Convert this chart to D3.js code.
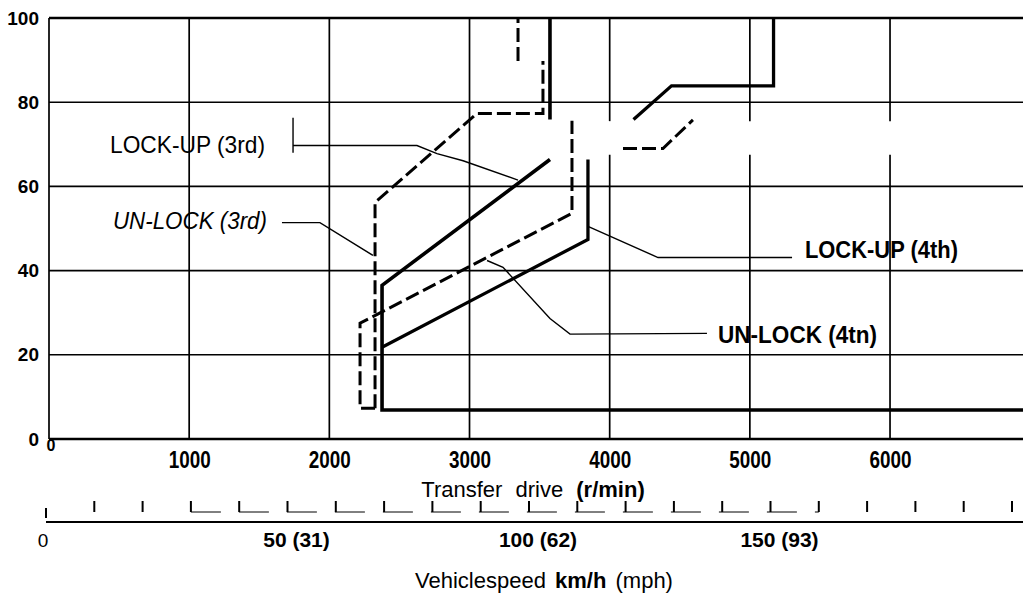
<!DOCTYPE html>
<html><head><meta charset="utf-8">
<script src="https://cdn.jsdelivr.net/npm/d3@7"></script>
<style>html,body{margin:0;padding:0;background:#fff;overflow:hidden;} svg{display:block;font-family:"Liberation Sans",Arial,sans-serif;}</style>
</head><body>
<svg id="c" width="1023" height="597"></svg>
<script>
// ---- data ----
const rpmTicks = [1000, 2000, 3000, 4000, 5000, 6000];
const pctTicks = [0, 20, 40, 60, 80, 100];
const speedTicks = [0,10,20,30,40,50,60,70,80,90,100,110,120,130,140,150,160,170,180,190,200];
const speedLabelValues = [0, 50, 100, 150];
const speedLabelTexts = ["0", "50 (31)", "100 (62)", "150 (93)"];

// curves: [rpm, percent], null = break in the printed line
const lockUp3rd  = [[7000,6.9],[2376,6.9],[2376,36.5],[3574,66.4],null,[3574,75.9],[3574,100]];
const unLock3rd  = [[2326,7.3],[2326,56.2],[3053,77.3],[3524,77.3],[3524,89.8],null,[3346,89.8],[3346,100]];
const lockUp4th  = [[2376,21.8],[3845,47.4],[3845,66.4],null,[4170,75.9],[4441,83.9],[5169,83.9],[5169,100]];
const unLock4th  = [[2326,7.3],[2219,7.3],[2219,27.5],[3731,53.6],[3731,75.6],null,[4095,69.0],[4380,69.0],[4594,75.8]];

// leader lines
const leaderLU3 = [[1741,69.7],[2625,69.7],[2768,67.8],[2954,66.1],[3346,61.5]];
const leaderLU3tick = [[1741,76.3],[1741,68.0]];
const leaderUL3 = [[1662,51.4],[1933,51.4],[2311,43.6]];
const leaderLU4 = [[5301,43.1],[4345,43.1],[3845,50.5]];
const leaderUL4 = [[4694,25.1],[3717,24.9],[3574,28.6],[3239,40.8],[3125,42.4]];

const labelTexts = ["LOCK-UP (3rd)", "UN-LOCK (3rd)", "LOCK-UP (4th)", "UN-LOCK (4tn)"];
const labelAnchors = [[1541,68.0],[1555,49.8],[5393,42.9],[4773,22.7]];

// gap in the printed grid (scan patch)
const patchGap = [3500, 67.5, 75.5];

// ---- drawing ----
const svg = d3.select("#c");
const x = d3.scaleLinear().domain([0, 7000]).range([49, 1030.2]);
const y = d3.scaleLinear().domain([0, 100]).range([439, 18]);
const sp = d3.scaleLinear().domain([0, 200]).range([46, 1012]);
const line = d3.line().defined(d => d !== null).x(d => x(d[0])).y(d => y(d[1]));

// horizontal grid lines
svg.append("g").selectAll("line").data(pctTicks.filter(v => v > 0)).join("line")
  .attr("x1", x(0)).attr("x2", 1023).attr("y1", d => y(d)).attr("y2", d => y(d))
  .attr("stroke", "#000").attr("stroke-width", d => d === 100 ? 2.6 : 1.6);

// vertical grid lines (with gap)
const vg = svg.append("g");
rpmTicks.forEach(r => {
  const segs = r >= patchGap[0] ? [[0, patchGap[1]], [patchGap[2], 100]] : [[0, 100]];
  segs.forEach(s => vg.append("line").attr("x1", x(r)).attr("x2", x(r))
    .attr("y1", y(s[0])).attr("y2", y(s[1])).attr("stroke", "#000").attr("stroke-width", 1.7));
});
// left border
svg.append("line").attr("x1", x(0)).attr("x2", x(0)).attr("y1", y(0)).attr("y2", y(100))
  .attr("stroke", "#000").attr("stroke-width", 1.7);
// x axis line
svg.append("line").attr("x1", x(0)).attr("x2", 1023).attr("y1", y(0)).attr("y2", y(0))
  .attr("stroke", "#000").attr("stroke-width", 2.6);

// axes labels via d3 axis
const ax = svg.append("g").attr("transform", `translate(0,${y(0)})`)
  .call(d3.axisBottom(x).tickValues(rpmTicks).tickSize(0).tickPadding(12).tickFormat(d3.format("d")));
ax.select(".domain").remove();
ax.selectAll("text").attr("font-size", 24).attr("font-weight", "bold").attr("fill", "#000")
  .attr("font-family", '"Liberation Sans",Arial,sans-serif')
  .attr("textLength", 42).attr("lengthAdjust", "spacingAndGlyphs");

const ay = svg.append("g").attr("transform", `translate(${x(0)},0)`)
  .call(d3.axisLeft(y).tickValues(pctTicks).tickSize(0).tickPadding(10));
ay.select(".domain").remove();
ay.selectAll("text").attr("font-size", 19).attr("font-weight", "bold").attr("fill", "#000")
  .attr("font-family", '"Liberation Sans",Arial,sans-serif');

// small 0 at origin
svg.append("text").attr("x", x(0) + 2).attr("y", y(0) + 12).attr("text-anchor", "middle")
  .attr("font-size", 16).attr("font-weight", "bold").text("0");

// curves
svg.append("path").datum(unLock4th).attr("d", line).attr("fill", "none").attr("stroke", "#000")
  .attr("stroke-width", 3).attr("stroke-dasharray", "14,5").attr("stroke-linejoin", "miter");
svg.append("path").datum(unLock3rd).attr("d", line).attr("fill", "none").attr("stroke", "#000")
  .attr("stroke-width", 3).attr("stroke-dasharray", "14,5").attr("stroke-linejoin", "miter");
svg.append("path").datum(lockUp4th).attr("d", line).attr("fill", "none").attr("stroke", "#000")
  .attr("stroke-width", 3.3).attr("stroke-linejoin", "miter");
svg.append("path").datum(lockUp3rd).attr("d", line).attr("fill", "none").attr("stroke", "#000")
  .attr("stroke-width", 3.6).attr("stroke-linejoin", "miter");

// leaders
[leaderLU3, leaderLU3tick, leaderUL3, leaderLU4, leaderUL4].forEach(l =>
  svg.append("path").datum(l).attr("d", line).attr("fill", "none").attr("stroke", "#000").attr("stroke-width", 1.4));

// labels
const styles = [
  {anchor: "end", weight: "normal", italic: false, len: 155},
  {anchor: "end", weight: "normal", italic: true, len: 154},
  {anchor: "start", weight: "bold", italic: false, len: 153},
  {anchor: "start", weight: "bold", italic: false, len: 159}
];
labelTexts.forEach((t, i) => {
  svg.append("text").attr("x", x(labelAnchors[i][0])).attr("y", y(labelAnchors[i][1]))
    .attr("text-anchor", styles[i].anchor).attr("font-size", 24)
    .attr("font-weight", styles[i].weight).attr("font-style", styles[i].italic ? "italic" : "normal")
    .attr("textLength", styles[i].len).attr("lengthAdjust", "spacingAndGlyphs").text(t);
});

// x axis title
const t1 = svg.append("text").attr("x", 533).attr("y", 497).attr("text-anchor", "middle")
  .attr("font-size", 22).attr("word-spacing", 7);
t1.append("tspan").text("Transfer drive ");
t1.append("tspan").attr("font-weight", "bold").text("(r/min)");

// speed axis
svg.append("line").attr("x1", sp(0)).attr("x2", 1023).attr("y1", 522).attr("y2", 522)
  .attr("stroke", "#000").attr("stroke-width", 2.2);
svg.append("line").attr("x1", sp(30)).attr("x2", sp(160)).attr("y1", 512).attr("y2", 512)
  .attr("stroke", "#000").attr("stroke-width", 1).attr("stroke-dasharray", "30,18");
svg.append("g").selectAll("line").data(speedTicks).join("line")
  .attr("x1", d => sp(d)).attr("x2", d => sp(d))
  .attr("y1", d => d === 0 ? 508 : 501).attr("y2", d => d === 0 ? 518 : 512)
  .attr("stroke", "#000").attr("stroke-width", 2);
speedLabelValues.forEach((v, i) => {
  svg.append("text").attr("x", sp(v) + (v === 0 ? -3 : 9)).attr("y", 547).attr("text-anchor", "middle")
    .attr("font-size", v === 0 ? 19 : 21).attr("font-weight", v === 0 ? "normal" : "bold")
    .text(speedLabelTexts[i]);
});

const t2 = svg.append("text").attr("x", 544).attr("y", 588).attr("text-anchor", "middle")
  .attr("font-size", 22).attr("word-spacing", 3);
t2.append("tspan").text("Vehiclespeed ");
t2.append("tspan").attr("font-weight", "bold").text("km/h ");
t2.append("tspan").text("(mph)");
</script>
</body></html>
